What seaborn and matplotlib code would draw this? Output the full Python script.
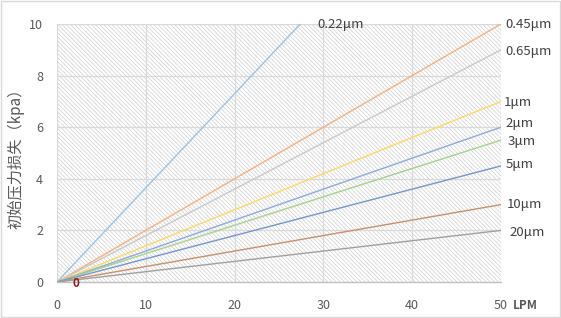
import matplotlib
matplotlib.use("Agg")
import matplotlib.pyplot as plt
import seaborn as sns
import pandas as pd
from matplotlib.patches import Rectangle

sns.set_theme(style="white")
plt.rcParams['font.family'] = ['Noto Sans CJK SC', 'DejaVu Sans']
plt.rcParams['hatch.linewidth'] = 0.5
plt.rcParams['hatch.color'] = '#CFCFCF'

# Data
series_names = ["0.22μm", "0.45μm", "0.65μm", "1μm", "2μm", "3μm", "5μm", "10μm", "20μm"]
x_start = [0, 0, 0, 0, 0, 0, 0, 0, 0]
x_end = [50, 50, 50, 50, 50, 50, 50, 50, 50]
y_start = [0, 0, 0, 0, 0, 0, 0, 0, 0]
y_end = [18.25, 10, 9, 7, 6, 5.5, 4.5, 3, 2]
colors = ["#9DC3E6", "#F4B183", "#C9C9C9", "#FFD966", "#8FAADC",
          "#A9D18E", "#7597CC", "#C9906F", "#A0A0A0"]
x_ticks = [0, 10, 20, 30, 40, 50]
y_ticks = [0, 2, 4, 6, 8, 10]

rows = []
for n, xs, xe, ys, ye in zip(series_names, x_start, x_end, y_start, y_end):
    rows.append({"series": n, "LPM": xs, "kpa": ys})
    rows.append({"series": n, "LPM": xe, "kpa": ye})
df = pd.DataFrame(rows)

fig = plt.figure(figsize=(5.61, 3.18), dpi=100)
ax = fig.add_axes([0.1016, 0.1132, 0.7914, 0.8113])

# hatched background
ax.add_patch(Rectangle((0, 0), 1, 1, transform=ax.transAxes, facecolor='white',
                       edgecolor='#CFCFCF', hatch='\\' * 8, lw=0, zorder=0))

sns.lineplot(data=df, x="LPM", y="kpa", hue="series", palette=colors,
             hue_order=series_names, legend=False, lw=1.0, ax=ax, zorder=3)

ax.set_xlim(0, 50)
ax.set_ylim(0, 10)
ax.set_xticks(x_ticks)
ax.set_yticks(y_ticks)
ax.grid(True, color='#D9D9D9', lw=0.9, zorder=1)
ax.set_axisbelow(True)
for s in ['left', 'top', 'right']:
    ax.spines[s].set_visible(False)
ax.spines['bottom'].set_color('#BFBFBF')
ax.spines['bottom'].set_linewidth(0.9)
ax.tick_params(axis='x', length=0, labelsize=9, colors='#595959', pad=12)
ax.tick_params(axis='y', length=0, labelsize=9, colors='#595959', pad=10)
ax.set_xlabel("")
ax.set_ylabel("")
fig.text(16 / 561, 1 - 155 / 318, "初始压力损失（kpa）", rotation=90, fontsize=11,
         color='#595959', ha='center', va='center')
ax.text(1.054, -0.09, "LPM", transform=ax.transAxes, fontsize=8.5, fontweight='bold',
        color='#595959', va='center', ha='center')

# data labels
label_pos = {
    "0.22μm": (29.3, 10.0),
    "0.45μm": (50.5, 10.0),
    "0.65μm": (50.5, 8.95),
    "1μm": (50.3, 6.95),
    "2μm": (50.5, 6.15),
    "3μm": (50.7, 5.45),
    "5μm": (50.5, 4.55),
    "10μm": (50.7, 3.0),
    "20μm": (51.0, 1.9),
}
for n in series_names:
    lx, ly = label_pos[n]
    ax.text(lx, ly, n, fontsize=9.5, color='#404040', va='center', ha='left', clip_on=False)
ax.text(2.1, -0.05, "0", fontsize=8.5, fontweight='bold', color='#8B1A1A', va='center',
        ha='center', clip_on=False)

# outer border
fig.patches.append(Rectangle((0.002, 0.003), 0.996, 0.994, transform=fig.transFigure,
                             fill=False, edgecolor='#D9D9D9', lw=1))

fig.savefig("out.png", dpi=100)
